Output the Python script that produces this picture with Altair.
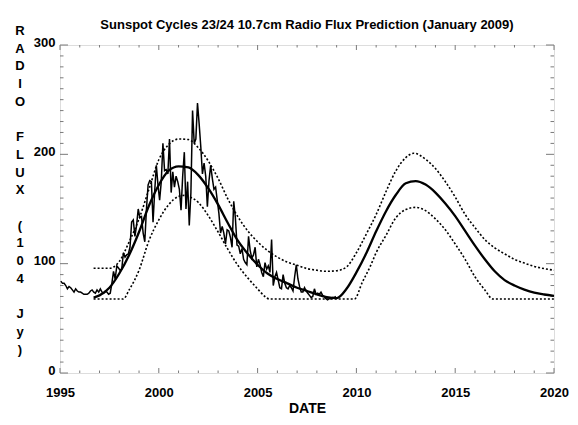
import altair as alt
import pandas as pd

FONT = "Liberation Sans"
TITLE = "Sunspot Cycles 23/24 10.7cm Radio Flux Prediction (January 2009)"
# vertical y-axis title, one character per line, in four words
Y_WORDS = [["R", "A", "D", "I", "O"], ["F", "L", "U", "X"],
           ["(", "1", "0", "4"], ["J", "y", ")"]]
X_TITLE = "DATE"

# observed monthly radio flux, Jan 1995 .. Dec 2008
obs_1995 = [84, 82, 82, 80, 77, 79, 78, 76, 74, 77, 75, 74]
obs_1996 = [74, 73, 72, 72, 72, 73, 75, 76, 74, 73, 76, 74]
obs_1997 = [77, 74, 73, 75, 74, 72, 73, 82, 93, 86, 98, 96]
obs_1998 = [94, 95, 110, 106, 108, 109, 115, 138, 140, 125, 135, 150]
obs_1999 = [142, 143, 128, 120, 150, 172, 176, 175, 138, 166, 190, 172]
obs_2000 = [158, 175, 210, 185, 186, 182, 214, 165, 184, 170, 180, 175]
obs_2001 = [168, 149, 180, 202, 150, 175, 135, 165, 240, 210, 214, 247]
obs_2002 = [228, 207, 182, 192, 180, 152, 176, 190, 178, 168, 170, 158]
obs_2003 = [146, 128, 134, 128, 118, 131, 130, 124, 115, 157, 142, 117]
obs_2004 = [116, 109, 114, 104, 101, 99, 125, 112, 105, 108, 115, 97]
obs_2005 = [104, 99, 92, 88, 101, 95, 98, 92, 122, 80, 88, 92]
obs_2006 = [85, 78, 77, 90, 82, 78, 77, 80, 78, 75, 88, 99]
obs_2007 = [86, 79, 74, 74, 78, 75, 73, 71, 69, 70, 77, 72]
obs_2008 = [73, 72, 74, 71, 70, 68, 67, 68, 68, 69, 69, 70]
obs_first_year = 1995

# predicted (smoothed) flux, cycles 23 and 24
pred_years = [1996.7, 1997.0, 1997.5, 1998.0, 1998.5, 1999.0, 1999.5, 2000.0,
              2000.5, 2001.0, 2001.5, 2002.0, 2002.5, 2003.0, 2003.5, 2004.0,
              2004.5, 2005.0, 2005.5, 2006.0, 2006.5, 2007.0, 2007.5, 2008.0,
              2008.5, 2009.0, 2009.5, 2010.0, 2010.5, 2011.0, 2011.5, 2012.0,
              2012.5, 2013.0, 2013.5, 2014.0, 2014.5, 2015.0, 2015.5, 2016.0,
              2016.5, 2017.0, 2017.5, 2018.0, 2018.5, 2019.0, 2019.5, 2020.0]
pred_mid = [69, 71, 78, 91, 108, 129, 153, 172,
            185, 189, 188, 181, 169, 154, 137, 121,
            109, 99, 91, 86, 82, 78, 75, 72,
            69.5, 68.5, 77, 92, 109.5, 129.6, 148, 163,
            173.5, 175.5, 172.3, 165, 155, 143.5, 130, 116.5,
            104, 93, 85, 80, 76.3, 73.5, 71.8, 70.6]

upper_years = [1996.7, 1997.5, 1998.0, 1998.5, 1999.0, 1999.5, 2000.0, 2000.5,
               2001.0, 2001.5, 2002.0, 2002.5, 2003.0, 2003.5, 2004.0, 2004.5,
               2005.0, 2005.5, 2006.0, 2006.5, 2007.0, 2007.5, 2008.0, 2008.5,
               2009.0, 2009.5, 2010.0, 2010.5, 2011.0, 2011.5, 2012.0, 2012.5,
               2012.9, 2013.5, 2014.0, 2014.5, 2015.0, 2015.5, 2016.0, 2016.5,
               2017.0, 2017.5, 2018.0, 2018.5, 2019.0, 2019.5, 2020.0]
upper_vals = [95.8, 95.8, 102, 120, 141, 168, 195, 209,
              214, 213.5, 206, 194, 178, 159, 143, 130,
              120, 112, 106, 101.5, 98.5, 95.5, 94, 93,
              93.5, 97, 110, 127, 145, 166, 185, 197,
              201, 195.5, 187, 175, 161, 145, 133, 122,
              114.5, 109, 104, 100.5, 97.5, 95.5, 94]

lower_years = [1996.7, 1998.2, 1998.5, 1999.0, 1999.5, 2000.0, 2000.5, 2001.0,
               2001.3, 2001.5, 2002.0, 2002.5, 2003.0, 2003.5, 2004.0, 2004.5,
               2005.0, 2005.4, 2005.6, 2009.9, 2010.3, 2010.7, 2011.0, 2011.5,
               2012.0, 2012.5, 2013.0, 2013.5, 2014.0, 2014.5, 2015.0, 2015.5,
               2016.0, 2016.5, 2016.9, 2020.0]
lower_vals = [67.7, 67.7, 76, 94, 121, 140, 154, 161.5,
              162.5, 161.5, 156, 144, 129, 113, 98.5, 87,
              77, 69.5, 67.7, 67.7, 83, 97.5, 110, 126,
              142, 149.5, 151.5, 148.5, 141, 131, 118, 104,
              88, 76, 67.7, 67.7]

x_major = [1995, 2000, 2005, 2010, 2015, 2020]
x_minor = [y for y in range(1995, 2021) if y % 5 != 0]
y_major = [0, 100, 200, 300]
y_minor = [v for v in range(0, 301, 10) if v % 100 != 0]

W, H = 494, 328
FRAME = "#7a7a7a"
LINE_H = 17.7

observed = (obs_1995 + obs_1996 + obs_1997 + obs_1998 + obs_1999 + obs_2000 +
            obs_2001 + obs_2002 + obs_2003 + obs_2004 + obs_2005 + obs_2006 +
            obs_2007 + obs_2008)
df_obs = pd.DataFrame({
    "year": [obs_first_year + (i + 0.5) / 12 for i in range(len(observed))],
    "value": observed,
})
df_mid = pd.DataFrame({"year": pred_years, "value": pred_mid})
df_bounds = pd.concat([
    pd.DataFrame({"year": upper_years, "value": upper_vals, "series": "upper"}),
    pd.DataFrame({"year": lower_years, "value": lower_vals, "series": "lower"}),
])

xs = alt.Scale(domain=[1995, 2020], nice=False, zero=False)
ys = alt.Scale(domain=[0, 300], nice=False)

x_axis = alt.Axis(values=x_major, format="d", title=X_TITLE, labelFont=FONT,
                  labelFontSize=13, labelFontWeight="bold", labelColor="black",
                  labelPadding=13, labelFlush=False, labelOverlap=False,
                  ticks=False, tickSize=0, domain=False, grid=False,
                  titleFont=FONT, titleFontSize=14, titleFontWeight="bold",
                  titleColor="black", titlePadding=2)
y_axis = alt.Axis(values=y_major, format="d", title=None, labelFont=FONT,
                  labelFontSize=13, labelFontWeight="bold", labelColor="black",
                  labelPadding=5, labelOffset=-3, labelFlush=False,
                  ticks=False, tickSize=0, domain=False, grid=False)

X = alt.X("year:Q", scale=xs, axis=x_axis)
Y = alt.Y("value:Q", scale=ys, axis=y_axis)

obs_layer = alt.Chart(df_obs).mark_line(color="black", strokeWidth=1.5).encode(
    x=X, y=Y)
mid_layer = alt.Chart(df_mid).mark_line(
    color="black", strokeWidth=2.3, interpolate="monotone").encode(x=X, y=Y)
bound_layer = alt.Chart(df_bounds).mark_line(
    color="black", strokeWidth=1.6, strokeDash=[2, 2],
    interpolate="monotone").encode(x=X, y=Y, detail="series:N")

def xticks(vals, y0, y1):
    return alt.Chart(pd.DataFrame({"year": vals})).mark_rule(
        color=FRAME, strokeWidth=1).encode(
        x=X, y=alt.value(y0), y2=alt.value(y1))

def yticks(vals, x0, x1):
    return alt.Chart(pd.DataFrame({"value": vals})).mark_rule(
        color=FRAME, strokeWidth=1).encode(
        y=Y, x=alt.value(x0), x2=alt.value(x1))

tick_layers = [
    xticks(x_major, H, H - 5), xticks(x_minor, H, H - 2.5),
    xticks(x_major, 0, 5), xticks(x_minor, 0, 2.5),
    yticks(y_major, 0, 8), yticks(y_minor, 0, 3.5),
    yticks(y_major, W, W - 8), yticks(y_minor, W, W - 3.5),
]

title_layer = alt.Chart(pd.DataFrame({"t": [TITLE]})).mark_text(
    font=FONT, fontSize=13, fontWeight="bold", color="black",
    align="center", baseline="alphabetic").encode(
    text="t:N", x=alt.value(W / 2), y=alt.value(-16))

# stacked y-axis title: words separated by one blank line
ytitle_layers = []
line_no = 0
for word in Y_WORDS:
    ytitle_layers.append(
        alt.Chart(pd.DataFrame({"k": [0]})).mark_text(
            text=word, font=FONT, fontSize=13, fontWeight="bold",
            color="black", align="center", baseline="top",
            lineHeight=LINE_H).encode(
            x=alt.value(-40), y=alt.value(-20 + line_no * LINE_H)))
    line_no += len(word) + 1

chart = alt.layer(
    obs_layer, *tick_layers, bound_layer, mid_layer, title_layer,
    *ytitle_layers
).properties(
    width=W, height=H,
    padding={"left": 52, "top": 37, "right": 16, "bottom": 44},
    autosize=alt.AutoSizeParams(type="none"),
).configure_view(stroke=FRAME, strokeWidth=2).configure(background="white")

chart.save("out.html", embed_options={"renderer": "svg", "actions": False})
